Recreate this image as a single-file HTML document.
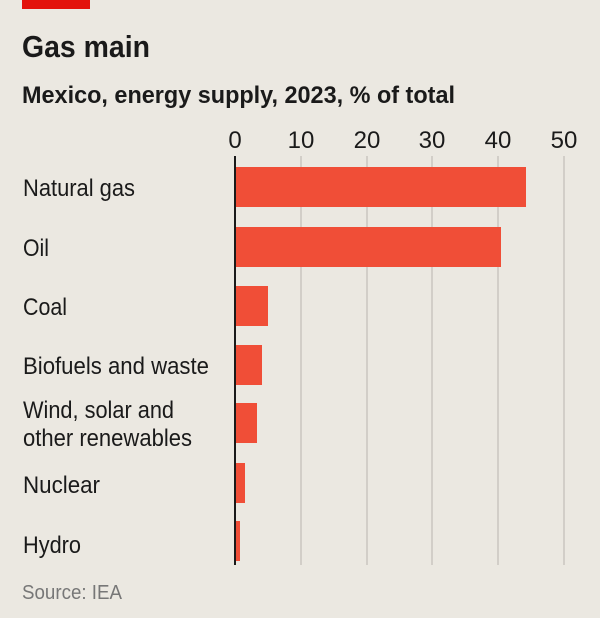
<!DOCTYPE html>
<html><head><style>
html,body{margin:0;padding:0;background:#ebe8e1;}
svg{display:block;font-family:"Liberation Sans",sans-serif;}
</style></head><body>
<svg width="600" height="618" viewBox="0 0 600 618">
<rect width="600" height="618" fill="#ebe8e1"/>
<rect x="22" y="0" width="68" height="9" fill="#e3120b"/>
<text x="22" y="57" font-size="31" font-weight="bold" fill="#1a1a1a" textLength="128" lengthAdjust="spacingAndGlyphs">Gas main</text>
<text x="22" y="103" font-size="24" font-weight="bold" fill="#1a1a1a" textLength="433" lengthAdjust="spacingAndGlyphs">Mexico, energy supply, 2023, % of total</text>
<g stroke="#c9c6bf" stroke-width="1.5">
<line x1="301" y1="156" x2="301" y2="565"/>
<line x1="367" y1="156" x2="367" y2="565"/>
<line x1="432" y1="156" x2="432" y2="565"/>
<line x1="498" y1="156" x2="498" y2="565"/>
<line x1="564" y1="156" x2="564" y2="565"/>
</g>
<g font-size="24" fill="#1a1a1a" text-anchor="middle">
<text x="235" y="148">0</text><text x="301" y="148">10</text><text x="367" y="148">20</text>
<text x="432" y="148">30</text><text x="498" y="148">40</text><text x="564" y="148">50</text>
</g>
<g fill="#f04e37">
<rect x="235" y="167" width="291" height="40"/>
<rect x="235" y="227" width="266" height="40"/>
<rect x="235" y="286" width="33" height="40"/>
<rect x="235" y="345" width="27" height="40"/>
<rect x="235" y="403" width="22" height="40"/>
<rect x="235" y="463" width="10" height="40"/>
<rect x="235" y="521" width="5" height="40"/>
</g>
<line x1="235" y1="156" x2="235" y2="565" stroke="#1a1a1a" stroke-width="2"/>
<g font-size="24" fill="#1a1a1a">
<text x="23" y="196" textLength="112" lengthAdjust="spacingAndGlyphs">Natural gas</text>
<text x="23" y="256" textLength="26" lengthAdjust="spacingAndGlyphs">Oil</text>
<text x="23" y="315" textLength="44" lengthAdjust="spacingAndGlyphs">Coal</text>
<text x="23" y="374" textLength="186" lengthAdjust="spacingAndGlyphs">Biofuels and waste</text>
<text x="23" y="418" textLength="151" lengthAdjust="spacingAndGlyphs">Wind, solar and</text>
<text x="23" y="446" textLength="169" lengthAdjust="spacingAndGlyphs">other renewables</text>
<text x="23" y="493" textLength="77" lengthAdjust="spacingAndGlyphs">Nuclear</text>
<text x="23" y="553" textLength="58" lengthAdjust="spacingAndGlyphs">Hydro</text>
</g>
<text x="22" y="599" font-size="20" fill="#777" textLength="100" lengthAdjust="spacingAndGlyphs">Source: IEA</text>
</svg>
</body></html>
